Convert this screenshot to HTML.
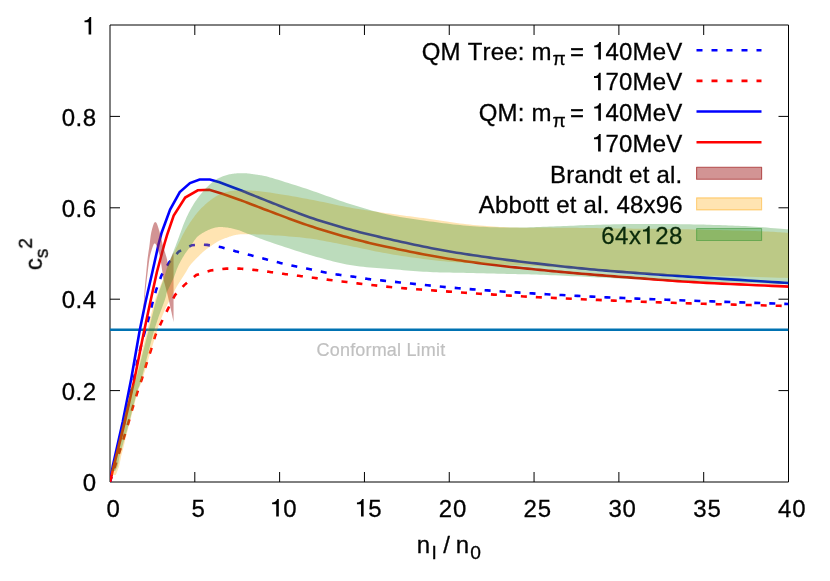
<!DOCTYPE html>
<html><head><meta charset="utf-8"><title>plot</title>
<style>html,body{margin:0;padding:0;background:#fff}text{font-kerning:none;font-variant-ligatures:none;stroke:#000;stroke-width:0.3px}body{width:830px;height:581px;overflow:hidden;font-family:"Liberation Sans",sans-serif}</style>
</head><body>
<svg width="830" height="581" viewBox="0 0 830 581" style="display:block">
<rect width="830" height="581" fill="#fff"/>
<defs><clipPath id="c"><rect x="110.00" y="25.00" width="678.50" height="457.00"/></clipPath></defs>
<path d="M194.81 482.00V472.00M194.81 25.00V35.00M279.62 482.00V472.00M279.62 25.00V35.00M364.44 482.00V472.00M364.44 25.00V35.00M449.25 482.00V472.00M449.25 25.00V35.00M534.06 482.00V472.00M534.06 25.00V35.00M618.88 482.00V472.00M618.88 25.00V35.00M703.69 482.00V472.00M703.69 25.00V35.00M110.00 390.60H120.00M788.50 390.60H778.50M110.00 299.20H120.00M788.50 299.20H778.50M110.00 207.80H120.00M788.50 207.80H778.50M110.00 116.40H120.00M788.50 116.40H778.50" stroke="#000" stroke-width="1" fill="none"/>
<path d="M110.00 25.00H788.50V482.00H110.00Z" stroke="#000" stroke-width="1" fill="none"/>
<g opacity="0.999">
<text x="96.10" y="491.20" font-family="Liberation Sans, sans-serif" font-size="24" text-anchor="end" fill="#000">0</text>
<text x="96.60" y="399.80" font-family="Liberation Sans, sans-serif" font-size="24" text-anchor="end" fill="#000" letter-spacing="0.500">0.2</text>
<text x="96.60" y="308.40" font-family="Liberation Sans, sans-serif" font-size="24" text-anchor="end" fill="#000" letter-spacing="0.500">0.4</text>
<text x="96.60" y="217.00" font-family="Liberation Sans, sans-serif" font-size="24" text-anchor="end" fill="#000" letter-spacing="0.500">0.6</text>
<text x="96.60" y="125.60" font-family="Liberation Sans, sans-serif" font-size="24" text-anchor="end" fill="#000" letter-spacing="0.500">0.8</text>
<path d="M88.6 34.6V22.3H84.5V20.5C87.2 20.4 89.0 19.4 89.6 17.1H91.2V34.6Z" fill="#000"/>
<text x="113.30" y="516.60" font-family="Liberation Sans, sans-serif" font-size="24" text-anchor="middle" fill="#000">0</text>
<text x="198.11" y="516.60" font-family="Liberation Sans, sans-serif" font-size="24" text-anchor="middle" fill="#000">5</text>
<path d="M276.22 516.60V504.30H272.12V502.50C274.82 502.40 276.62 501.40 277.22 499.10H278.82V516.60Z" fill="#000"/>
<text x="283.32" y="516.60" font-family="Liberation Sans, sans-serif" font-size="24" text-anchor="start" fill="#000">0</text>
<path d="M361.04 516.60V504.30H356.94V502.50C359.64 502.40 361.44 501.40 362.04 499.10H363.64V516.60Z" fill="#000"/>
<text x="368.14" y="516.60" font-family="Liberation Sans, sans-serif" font-size="24" text-anchor="start" fill="#000">5</text>
<text x="452.95" y="516.60" font-family="Liberation Sans, sans-serif" font-size="24" text-anchor="middle" fill="#000" letter-spacing="0.800">20</text>
<text x="537.76" y="516.60" font-family="Liberation Sans, sans-serif" font-size="24" text-anchor="middle" fill="#000" letter-spacing="0.800">25</text>
<text x="622.57" y="516.60" font-family="Liberation Sans, sans-serif" font-size="24" text-anchor="middle" fill="#000" letter-spacing="0.800">30</text>
<text x="707.39" y="516.60" font-family="Liberation Sans, sans-serif" font-size="24" text-anchor="middle" fill="#000" letter-spacing="0.800">35</text>
<text x="792.20" y="516.60" font-family="Liberation Sans, sans-serif" font-size="24" text-anchor="middle" fill="#000" letter-spacing="0.800">40</text>
<text y="552.7" font-family="Liberation Sans, sans-serif" font-size="24"><tspan x="416.84">n</tspan><tspan x="431.4" font-size="19.2" dy="6.0">I</tspan><tspan x="443.3" dy="-6.0">/</tspan><tspan x="455.8">n</tspan><tspan x="470.3" font-size="19.2" dy="6.2">0</tspan></text>
<text transform="translate(41.8,270.2) rotate(-90)" font-family="Liberation Sans, sans-serif" font-size="24">c<tspan font-size="19.2" dy="5.76">s</tspan><tspan font-size="19.2" dy="-15.36">2</tspan></text>
<text x="316.60" y="356.00" font-family="Liberation Sans, sans-serif" font-size="18" text-anchor="start" fill="#c0c0c0" letter-spacing="0.180" style="stroke:#c0c0c0;stroke-width:0.2px">Conformal Limit</text>
<text x="551.58" y="59.50" font-family="Liberation Sans, sans-serif" font-size="24" text-anchor="end" fill="#000" letter-spacing="0.180">QM Tree: m</text>
<text x="552.60" y="65.26" font-family="Liberation Sans, sans-serif" font-size="19.2" text-anchor="start" fill="#000">π</text>
<text x="570.00" y="59.50" font-family="Liberation Sans, sans-serif" font-size="24" text-anchor="start" fill="#000">=</text>
<path d="M598.30 59.50V47.20H594.20V45.40C596.90 45.30 598.70 44.30 599.30 42.00H600.90V59.50Z" fill="#000"/>
<text x="605.51" y="59.50" font-family="Liberation Sans, sans-serif" font-size="24" text-anchor="start" fill="#000" letter-spacing="0.180">40MeV</text>
<path d="M598.10 90.20V77.90H594.00V76.10C596.70 76.00 598.50 75.00 599.10 72.70H600.70V90.20Z" fill="#000"/>
<text x="605.51" y="90.20" font-family="Liberation Sans, sans-serif" font-size="24" text-anchor="start" fill="#000" letter-spacing="0.180">70MeV</text>
<text x="551.58" y="120.80" font-family="Liberation Sans, sans-serif" font-size="24" text-anchor="end" fill="#000" letter-spacing="0.180">QM: m</text>
<text x="552.60" y="126.56" font-family="Liberation Sans, sans-serif" font-size="19.2" text-anchor="start" fill="#000">π</text>
<text x="570.00" y="120.80" font-family="Liberation Sans, sans-serif" font-size="24" text-anchor="start" fill="#000">=</text>
<path d="M598.30 120.80V108.50H594.20V106.70C596.90 106.60 598.70 105.60 599.30 103.30H600.90V120.80Z" fill="#000"/>
<text x="605.51" y="120.80" font-family="Liberation Sans, sans-serif" font-size="24" text-anchor="start" fill="#000" letter-spacing="0.180">40MeV</text>
<path d="M598.10 151.50V139.20H594.00V137.40C596.70 137.30 598.50 136.30 599.10 134.00H600.70V151.50Z" fill="#000"/>
<text x="605.51" y="151.50" font-family="Liberation Sans, sans-serif" font-size="24" text-anchor="start" fill="#000" letter-spacing="0.180">70MeV</text>
<text x="682.53" y="182.50" font-family="Liberation Sans, sans-serif" font-size="24" text-anchor="end" fill="#000" letter-spacing="0.230">Brandt et al.</text>
<text x="682.80" y="213.20" font-family="Liberation Sans, sans-serif" font-size="24" text-anchor="end" fill="#000" letter-spacing="0.200">Abbott et al. 48x96</text>
</g>
<g clip-path="url(#c)" fill="none" stroke-width="2.60">
<path d="M110.00 329.82H788.50" stroke="#0072b2"/>
<path d="M110.00 482.00 L113.00 469.50 L124.40 422.00 L133.90 379.00 L138.00 358.00 L143.00 338.00 L148.60 318.70 L152.30 303.60 L156.20 289.90 L161.40 275.60 L169.20 262.30 L178.80 251.50 L192.00 245.20 L200.00 244.50 L207.10 244.90 L221.60 247.30 L236.00 251.40 L236.67 251.57 L237.51 251.79 L238.49 252.04 L239.59 252.32 L240.79 252.62 L242.06 252.95 L243.39 253.29 L244.74 253.64 L246.10 253.99 L247.45 254.34 L248.75 254.67 L250.00 255.00 L251.22 255.32 L252.45 255.65 L253.70 255.98 L254.96 256.32 L256.23 256.66 L257.50 257.00 L258.77 257.34 L260.04 257.68 L261.30 258.02 L262.55 258.35 L263.78 258.68 L265.00 259.00 L266.20 259.31 L267.38 259.63 L268.55 259.93 L269.70 260.24 L270.85 260.54 L272.00 260.84 L273.15 261.13 L274.30 261.43 L275.45 261.72 L276.62 262.02 L277.80 262.31 L279.00 262.60 L280.21 262.89 L281.44 263.18 L282.68 263.47 L283.93 263.76 L285.18 264.05 L286.44 264.34 L287.70 264.62 L288.96 264.90 L290.23 265.18 L291.49 265.46 L292.75 265.73 L294.00 266.00 L295.25 266.26 L296.51 266.52 L297.77 266.78 L299.04 267.03 L300.30 267.28 L301.56 267.52 L302.82 267.77 L304.07 268.01 L305.32 268.26 L306.56 268.50 L307.79 268.75 L309.00 269.00 L310.20 269.25 L311.38 269.50 L312.55 269.76 L313.70 270.01 L314.85 270.27 L316.00 270.52 L317.15 270.78 L318.30 271.03 L319.45 271.28 L320.62 271.52 L321.80 271.76 L323.00 272.00 L324.21 272.23 L325.44 272.46 L326.68 272.69 L327.93 272.92 L329.18 273.14 L330.44 273.36 L331.70 273.58 L332.96 273.79 L334.23 274.00 L335.49 274.21 L336.75 274.41 L338.00 274.60 L339.25 274.79 L340.50 274.96 L341.75 275.13 L343.00 275.30 L344.25 275.46 L345.50 275.61 L346.75 275.77 L348.00 275.93 L349.25 276.09 L350.50 276.25 L351.75 276.42 L353.00 276.60 L354.25 276.79 L355.50 276.99 L356.75 277.19 L358.00 277.40 L359.25 277.61 L360.50 277.83 L361.75 278.04 L363.00 278.24 L364.25 278.45 L365.50 278.64 L366.75 278.83 L368.00 279.00 L369.11 279.15 L369.99 279.26 L370.71 279.35 L371.36 279.42 L372.00 279.49 L372.73 279.56 L373.60 279.65 L374.71 279.76 L376.13 279.90 L377.93 280.08 L380.20 280.31 L383.00 280.60 L386.44 280.96 L390.50 281.40 L395.07 281.89 L400.05 282.42 L405.34 282.99 L410.84 283.58 L416.44 284.17 L422.04 284.76 L427.54 285.33 L432.83 285.86 L437.82 286.36 L442.40 286.80 L446.64 287.19 L450.71 287.56 L454.62 287.90 L458.41 288.21 L462.09 288.51 L465.70 288.80 L469.26 289.07 L472.79 289.34 L476.33 289.60 L479.89 289.86 L483.51 290.13 L487.20 290.40 L490.90 290.67 L494.52 290.93 L498.09 291.19 L501.64 291.44 L505.20 291.68 L508.77 291.93 L512.40 292.17 L516.11 292.41 L519.92 292.65 L523.85 292.90 L527.94 293.14 L532.20 293.40 L536.70 293.66 L541.46 293.94 L546.41 294.21 L551.52 294.50 L556.73 294.78 L561.99 295.06 L567.25 295.34 L572.46 295.61 L577.57 295.88 L582.53 296.13 L587.29 296.37 L591.80 296.60 L595.98 296.81 L599.82 296.99 L603.41 297.17 L606.83 297.33 L610.15 297.48 L613.44 297.62 L616.78 297.77 L620.26 297.92 L623.94 298.07 L627.91 298.23 L632.24 298.41 L637.00 298.60 L642.20 298.81 L647.76 299.02 L653.62 299.25 L659.74 299.48 L666.06 299.72 L672.54 299.96 L679.13 300.21 L685.79 300.45 L692.45 300.70 L699.07 300.94 L705.60 301.17 L712.00 301.40 L718.57 301.63 L725.55 301.88 L732.81 302.12 L740.22 302.38 L747.64 302.63 L754.94 302.88 L761.97 303.11 L768.61 303.33 L774.72 303.54 L780.16 303.72 L784.80 303.88 L788.50 304.00" stroke="#0000ff" stroke-dasharray="6 9" stroke-dashoffset="0.7"/>
<path d="M110.00 482.00 L116.00 463.00 L120.20 449.50 L124.50 435.60 L128.70 422.00 L132.70 407.50 L137.10 393.10 L141.90 378.80 L146.30 364.20 L151.00 349.80 L155.40 335.10 L161.50 322.00 L168.10 308.70 L175.00 295.10 L184.30 285.10 L196.30 275.00 L210.50 270.50 L226.40 268.60 L240.00 268.60 L240.72 268.67 L241.63 268.75 L242.70 268.84 L243.89 268.94 L245.19 269.05 L246.56 269.18 L247.99 269.30 L249.44 269.44 L250.90 269.57 L252.33 269.72 L253.70 269.86 L255.00 270.00 L256.25 270.15 L257.51 270.30 L258.76 270.46 L260.02 270.62 L261.28 270.79 L262.54 270.96 L263.79 271.14 L265.04 271.31 L266.29 271.49 L267.53 271.66 L268.77 271.83 L270.00 272.00 L271.22 272.17 L272.42 272.33 L273.61 272.50 L274.80 272.67 L275.98 272.83 L277.16 273.00 L278.35 273.17 L279.53 273.33 L280.73 273.50 L281.94 273.67 L283.16 273.83 L284.40 274.00 L285.66 274.17 L286.94 274.33 L288.23 274.50 L289.53 274.67 L290.85 274.83 L292.16 275.00 L293.48 275.17 L294.80 275.33 L296.11 275.50 L297.42 275.67 L298.72 275.83 L300.00 276.00 L301.27 276.17 L302.53 276.33 L303.79 276.50 L305.04 276.67 L306.29 276.83 L307.54 277.00 L308.78 277.17 L310.02 277.33 L311.26 277.50 L312.51 277.67 L313.75 277.83 L315.00 278.00 L316.11 278.15 L316.98 278.28 L317.70 278.38 L318.33 278.48 L318.97 278.58 L319.69 278.69 L320.56 278.81 L321.67 278.96 L323.09 279.15 L324.90 279.38 L327.17 279.66 L330.00 280.00 L333.43 280.42 L337.41 280.91 L341.86 281.45 L346.70 282.05 L351.86 282.68 L357.25 283.34 L362.79 284.00 L368.41 284.66 L374.02 285.30 L379.54 285.91 L384.89 286.48 L390.00 287.00 L395.00 287.47 L400.05 287.92 L405.15 288.36 L410.26 288.77 L415.37 289.17 L420.44 289.55 L425.47 289.92 L430.41 290.27 L435.26 290.62 L439.99 290.95 L444.58 291.28 L449.00 291.60 L453.24 291.91 L457.31 292.20 L461.23 292.47 L465.03 292.73 L468.74 292.98 L472.37 293.22 L475.95 293.46 L479.50 293.69 L483.05 293.92 L486.61 294.14 L490.22 294.37 L493.90 294.60 L497.47 294.83 L500.78 295.04 L503.94 295.25 L507.00 295.44 L510.07 295.64 L513.21 295.84 L516.50 296.04 L520.04 296.24 L523.90 296.46 L528.16 296.69 L532.90 296.94 L538.20 297.20 L544.17 297.49 L550.78 297.80 L557.92 298.13 L565.49 298.48 L573.38 298.84 L581.48 299.20 L589.69 299.56 L597.90 299.92 L606.00 300.27 L613.89 300.60 L621.46 300.91 L628.60 301.20 L635.36 301.47 L641.88 301.72 L648.20 301.96 L654.37 302.19 L660.44 302.40 L666.44 302.61 L672.43 302.82 L678.44 303.01 L684.51 303.21 L690.71 303.41 L697.05 303.60 L703.60 303.80 L710.60 304.00 L718.16 304.22 L726.12 304.43 L734.31 304.64 L742.57 304.86 L750.74 305.06 L758.64 305.26 L766.12 305.44 L773.01 305.61 L779.15 305.77 L784.37 305.89 L788.50 306.00" stroke="#ff0000" stroke-dasharray="6 9" stroke-dashoffset="0.5"/>
<path d="M110.00 482.00 L112.90 465.60 L122.70 422.00 L131.20 379.00 L139.60 331.00 L145.40 302.50 L152.60 271.00 L158.60 244.00 L161.70 232.50 L170.10 209.60 L179.80 192.10 L190.00 183.10 L199.60 179.50 L209.90 179.50 L219.50 182.30 L230.00 186.20 L240.00 190.00 L241.42 190.57 L243.15 191.27 L245.16 192.08 L247.41 192.99 L249.87 193.98 L252.50 195.04 L255.27 196.15 L258.15 197.30 L261.09 198.48 L264.07 199.66 L267.05 200.84 L270.00 202.00 L272.98 203.17 L276.09 204.41 L279.30 205.69 L282.59 207.00 L285.96 208.34 L289.38 209.69 L292.83 211.04 L296.30 212.38 L299.77 213.70 L303.22 214.98 L306.63 216.22 L310.00 217.40 L313.33 218.54 L316.67 219.65 L320.00 220.73 L323.33 221.80 L326.67 222.84 L330.00 223.86 L333.33 224.86 L336.67 225.84 L340.00 226.80 L343.33 227.75 L346.67 228.68 L350.00 229.60 L353.30 230.49 L356.55 231.35 L359.77 232.18 L362.96 232.99 L366.16 233.78 L369.38 234.56 L372.62 235.33 L375.93 236.10 L379.30 236.88 L382.75 237.67 L386.32 238.47 L390.00 239.30 L393.82 240.16 L397.75 241.03 L401.80 241.93 L405.93 242.84 L410.12 243.76 L414.38 244.67 L418.66 245.58 L422.96 246.47 L427.27 247.35 L431.55 248.20 L435.80 249.02 L440.00 249.80 L444.17 250.55 L448.33 251.27 L452.50 251.98 L456.67 252.66 L460.83 253.32 L465.00 253.96 L469.17 254.59 L473.33 255.21 L477.50 255.82 L481.67 256.42 L485.83 257.01 L490.00 257.60 L494.17 258.18 L498.33 258.75 L502.50 259.30 L506.67 259.85 L510.83 260.38 L515.00 260.91 L519.17 261.42 L523.33 261.93 L527.50 262.43 L531.67 262.93 L535.83 263.41 L540.00 263.90 L544.17 264.38 L548.33 264.86 L552.50 265.33 L556.67 265.79 L560.83 266.25 L565.00 266.69 L569.17 267.13 L573.33 267.57 L577.50 267.99 L581.67 268.40 L585.83 268.81 L590.00 269.20 L594.13 269.58 L598.22 269.94 L602.27 270.29 L606.30 270.62 L610.33 270.95 L614.38 271.27 L618.46 271.58 L622.59 271.90 L626.80 272.22 L631.09 272.54 L635.48 272.86 L640.00 273.20 L644.56 273.54 L649.09 273.87 L653.63 274.20 L658.20 274.53 L662.85 274.86 L667.59 275.20 L672.47 275.54 L677.52 275.89 L682.76 276.25 L688.23 276.62 L693.97 277.00 L700.00 277.40 L706.66 277.84 L714.13 278.32 L722.20 278.83 L730.67 279.37 L739.34 279.92 L748.00 280.46 L756.46 280.99 L764.50 281.50 L771.93 281.96 L778.54 282.37 L784.13 282.72 L788.50 283.00" stroke="#0000ff"/>
<path d="M110.00 482.00 L113.00 469.50 L124.80 422.00 L134.50 379.00 L143.70 333.00 L150.20 302.50 L156.90 272.00 L164.40 244.00 L167.10 234.90 L173.70 215.60 L185.20 197.50 L197.80 190.30 L209.30 189.70 L223.10 193.90 L240.00 199.90 L241.42 200.45 L243.15 201.12 L245.16 201.89 L247.41 202.77 L249.87 203.72 L252.50 204.74 L255.27 205.81 L258.15 206.91 L261.09 208.04 L264.07 209.17 L267.05 210.30 L270.00 211.40 L272.98 212.52 L276.09 213.68 L279.30 214.89 L282.59 216.13 L285.96 217.40 L289.38 218.67 L292.83 219.94 L296.30 221.21 L299.77 222.46 L303.22 223.68 L306.63 224.86 L310.00 226.00 L313.33 227.10 L316.67 228.18 L320.00 229.24 L323.33 230.29 L326.67 231.31 L330.00 232.32 L333.33 233.31 L336.67 234.28 L340.00 235.24 L343.33 236.17 L346.67 237.10 L350.00 238.00 L353.30 238.88 L356.55 239.72 L359.77 240.54 L362.96 241.34 L366.16 242.12 L369.38 242.89 L372.62 243.65 L375.93 244.40 L379.30 245.16 L382.75 245.93 L386.32 246.71 L390.00 247.50 L393.82 248.31 L397.75 249.15 L401.80 249.99 L405.93 250.84 L410.12 251.69 L414.38 252.54 L418.66 253.39 L422.96 254.21 L427.27 255.03 L431.55 255.81 L435.80 256.57 L440.00 257.30 L444.17 258.00 L448.33 258.67 L452.50 259.33 L456.67 259.96 L460.83 260.58 L465.00 261.18 L469.17 261.76 L473.33 262.33 L477.50 262.89 L481.67 263.43 L485.83 263.97 L490.00 264.50 L494.17 265.02 L498.33 265.51 L502.50 266.00 L506.67 266.47 L510.83 266.92 L515.00 267.37 L519.17 267.80 L523.33 268.23 L527.50 268.66 L531.67 269.07 L535.83 269.49 L540.00 269.90 L544.17 270.31 L548.33 270.71 L552.50 271.10 L556.67 271.49 L560.83 271.87 L565.00 272.24 L569.17 272.61 L573.33 272.98 L577.50 273.34 L581.67 273.70 L585.83 274.05 L590.00 274.40 L594.13 274.75 L598.22 275.08 L602.27 275.41 L606.30 275.73 L610.33 276.05 L614.38 276.37 L618.46 276.68 L622.59 277.00 L626.80 277.32 L631.09 277.64 L635.48 277.97 L640.00 278.30 L644.56 278.64 L649.09 278.98 L653.63 279.33 L658.20 279.68 L662.85 280.03 L667.59 280.39 L672.47 280.74 L677.52 281.10 L682.76 281.45 L688.23 281.80 L693.97 282.15 L700.00 282.50 L706.66 282.86 L714.13 283.24 L722.20 283.63 L730.67 284.03 L739.34 284.42 L748.00 284.81 L756.46 285.19 L764.50 285.54 L771.93 285.87 L778.54 286.16 L784.13 286.40 L788.50 286.60" stroke="#ff0000"/>
</g>
<g fill="none" stroke-width="2.60">
<path d="M696.5 50.20H761.5" stroke="#0000ff" stroke-dasharray="6 9"/>
<path d="M696.5 80.90H761.5" stroke="#ff0000" stroke-dasharray="6 9"/>
<path d="M696.5 111.50H761.5" stroke="#0000ff"/>
<path d="M696.5 142.20H761.5" stroke="#ff0000"/>
</g>
<g clip-path="url(#c)">
<path d="M143.20 311.00 L143.23 310.64 L143.26 310.21 L143.30 309.73 L143.34 309.19 L143.39 308.59 L143.44 307.94 L143.49 307.23 L143.55 306.48 L143.61 305.68 L143.67 304.83 L143.73 303.94 L143.80 303.00 L143.87 302.00 L143.94 300.92 L144.01 299.77 L144.09 298.56 L144.16 297.30 L144.24 296.00 L144.33 294.68 L144.41 293.33 L144.51 291.98 L144.60 290.64 L144.70 289.31 L144.80 288.00 L144.91 286.69 L145.02 285.36 L145.14 284.01 L145.27 282.65 L145.40 281.28 L145.53 279.91 L145.66 278.54 L145.80 277.19 L145.93 275.85 L146.06 274.53 L146.18 273.25 L146.30 272.00 L146.41 270.78 L146.52 269.59 L146.63 268.43 L146.73 267.28 L146.83 266.15 L146.93 265.03 L147.03 263.93 L147.14 262.83 L147.24 261.75 L147.36 260.66 L147.47 259.58 L147.60 258.50 L147.73 257.42 L147.88 256.34 L148.02 255.27 L148.18 254.21 L148.33 253.15 L148.49 252.10 L148.65 251.06 L148.81 250.03 L148.97 249.00 L149.12 247.99 L149.26 246.99 L149.40 246.00 L149.53 245.01 L149.65 244.03 L149.77 243.04 L149.89 242.06 L150.00 241.08 L150.11 240.12 L150.22 239.18 L150.33 238.27 L150.44 237.38 L150.55 236.51 L150.67 235.69 L150.80 234.90 L150.93 234.15 L151.07 233.43 L151.21 232.74 L151.35 232.07 L151.50 231.44 L151.64 230.82 L151.79 230.24 L151.94 229.67 L152.08 229.12 L152.22 228.60 L152.36 228.09 L152.50 227.60 L152.63 227.13 L152.76 226.67 L152.89 226.24 L153.02 225.83 L153.15 225.44 L153.28 225.07 L153.40 224.72 L153.52 224.39 L153.64 224.09 L153.76 223.80 L153.88 223.54 L154.00 223.30 L154.12 223.08 L154.23 222.89 L154.34 222.73 L154.45 222.59 L154.56 222.46 L154.66 222.36 L154.77 222.28 L154.87 222.21 L154.98 222.17 L155.09 222.13 L155.19 222.11 L155.30 222.10 L155.41 222.11 L155.52 222.13 L155.63 222.17 L155.74 222.23 L155.85 222.30 L155.96 222.39 L156.07 222.49 L156.17 222.61 L156.28 222.74 L156.39 222.88 L156.50 223.03 L156.60 223.20 L156.70 223.37 L156.80 223.55 L156.89 223.74 L156.98 223.94 L157.07 224.15 L157.16 224.37 L157.26 224.62 L157.35 224.89 L157.45 225.17 L157.56 225.49 L157.68 225.83 L157.80 226.20 L157.93 226.61 L158.08 227.05 L158.23 227.52 L158.38 228.02 L158.54 228.55 L158.71 229.09 L158.87 229.64 L159.04 230.21 L159.21 230.78 L159.38 231.36 L159.54 231.93 L159.70 232.50 L159.86 233.07 L160.02 233.67 L160.19 234.28 L160.36 234.90 L160.53 235.53 L160.69 236.16 L160.86 236.79 L161.02 237.41 L161.17 238.01 L161.32 238.60 L161.47 239.16 L161.60 239.70 L161.72 240.18 L161.81 240.60 L161.88 240.97 L161.95 241.30 L162.01 241.63 L162.07 241.96 L162.14 242.31 L162.22 242.70 L162.32 243.14 L162.45 243.66 L162.60 244.28 L162.80 245.00 L163.04 245.86 L163.34 246.85 L163.67 247.96 L164.03 249.14 L164.42 250.38 L164.81 251.66 L165.20 252.93 L165.58 254.19 L165.94 255.40 L166.27 256.54 L166.56 257.58 L166.80 258.50 L167.00 259.32 L167.16 260.10 L167.30 260.83 L167.42 261.51 L167.52 262.15 L167.60 262.74 L167.67 263.29 L167.72 263.79 L167.77 264.24 L167.81 264.64 L167.86 264.99 L167.90 265.30 L173.55 252.20 L173.55 322.00 L173.37 321.16 L173.15 320.09 L172.88 318.82 L172.58 317.40 L172.26 315.86 L171.91 314.24 L171.56 312.57 L171.20 310.90 L170.85 309.26 L170.51 307.69 L170.19 306.22 L169.90 304.90 L169.63 303.70 L169.37 302.55 L169.12 301.46 L168.87 300.41 L168.63 299.40 L168.40 298.40 L168.16 297.41 L167.92 296.43 L167.68 295.44 L167.43 294.42 L167.17 293.38 L166.90 292.30 L166.61 291.17 L166.31 289.99 L165.99 288.79 L165.66 287.56 L165.32 286.32 L164.99 285.09 L164.66 283.87 L164.34 282.67 L164.05 281.52 L163.77 280.41 L163.52 279.37 L163.30 278.40 L163.12 277.52 L162.97 276.72 L162.85 275.99 L162.74 275.31 L162.66 274.67 L162.59 274.05 L162.52 273.44 L162.46 272.83 L162.39 272.19 L162.31 271.52 L162.21 270.79 L162.10 270.00 L161.97 269.14 L161.84 268.23 L161.70 267.27 L161.56 266.29 L161.42 265.28 L161.27 264.26 L161.12 263.24 L160.96 262.23 L160.80 261.24 L160.64 260.28 L160.47 259.36 L160.30 258.50 L160.12 257.67 L159.94 256.87 L159.75 256.08 L159.55 255.31 L159.35 254.56 L159.14 253.83 L158.94 253.13 L158.74 252.45 L158.54 251.79 L158.35 251.17 L158.17 250.57 L158.00 250.00 L157.84 249.46 L157.68 248.95 L157.53 248.47 L157.38 248.01 L157.23 247.58 L157.09 247.18 L156.96 246.79 L156.82 246.43 L156.69 246.10 L156.56 245.78 L156.43 245.48 L156.30 245.20 L156.17 244.94 L156.05 244.70 L155.93 244.49 L155.81 244.30 L155.69 244.13 L155.58 243.98 L155.46 243.85 L155.35 243.74 L155.24 243.66 L155.12 243.59 L155.01 243.53 L154.90 243.50 L154.79 243.48 L154.69 243.47 L154.59 243.47 L154.49 243.48 L154.39 243.52 L154.29 243.57 L154.19 243.66 L154.09 243.77 L153.98 243.92 L153.86 244.11 L153.74 244.33 L153.60 244.60 L153.45 244.92 L153.30 245.28 L153.13 245.69 L152.96 246.13 L152.78 246.61 L152.59 247.12 L152.41 247.65 L152.22 248.20 L152.04 248.76 L151.85 249.34 L151.67 249.92 L151.50 250.50 L151.33 251.08 L151.16 251.65 L150.99 252.22 L150.82 252.81 L150.65 253.41 L150.48 254.03 L150.31 254.67 L150.15 255.35 L149.98 256.06 L149.82 256.82 L149.66 257.63 L149.50 258.50 L149.34 259.42 L149.19 260.40 L149.04 261.43 L148.89 262.50 L148.74 263.61 L148.59 264.75 L148.45 265.92 L148.30 267.11 L148.15 268.32 L148.00 269.54 L147.85 270.77 L147.70 272.00 L147.54 273.26 L147.38 274.57 L147.22 275.92 L147.05 277.30 L146.88 278.69 L146.71 280.09 L146.55 281.49 L146.39 282.87 L146.23 284.22 L146.08 285.54 L145.93 286.80 L145.80 288.00 L145.67 289.14 L145.56 290.24 L145.45 291.30 L145.34 292.33 L145.24 293.33 L145.14 294.31 L145.05 295.27 L144.96 296.22 L144.87 297.16 L144.78 298.10 L144.69 299.05 L144.60 300.00 L144.51 300.99 L144.41 302.02 L144.31 303.08 L144.21 304.15 L144.12 305.21 L144.02 306.25 L143.94 307.25 L143.85 308.19 L143.77 309.05 L143.71 309.81 L143.65 310.47 L143.60 311.00 Z" fill="#a52a2a" fill-opacity="0.5"/>
</g>
<rect x="696.6" y="167.20" width="65" height="12" fill="#a52a2a" fill-opacity="0.5" stroke="#a52a2a" stroke-opacity="0.75" stroke-width="1.1" stroke-linejoin="round"/>
<g clip-path="url(#c)">
<path d="M110.95 475.00 L110.97 474.74 L110.98 474.46 L110.99 474.16 L110.99 473.81 L111.00 473.43 L111.02 473.00 L111.05 472.51 L111.10 471.96 L111.18 471.34 L111.28 470.65 L111.42 469.87 L111.60 469.00 L111.81 468.06 L112.05 467.06 L112.32 466.01 L112.61 464.89 L112.93 463.70 L113.27 462.44 L113.63 461.09 L114.01 459.67 L114.40 458.15 L114.82 456.53 L115.25 454.82 L115.70 453.00 L116.18 451.02 L116.69 448.86 L117.24 446.55 L117.81 444.11 L118.40 441.59 L119.01 439.00 L119.62 436.39 L120.22 433.78 L120.82 431.20 L121.40 428.69 L121.97 426.28 L122.50 424.00 L123.02 421.78 L123.54 419.55 L124.06 417.32 L124.57 415.11 L125.08 412.94 L125.58 410.81 L126.05 408.75 L126.51 406.78 L126.95 404.90 L127.37 403.13 L127.75 401.49 L128.10 400.00 L128.41 398.66 L128.68 397.48 L128.92 396.42 L129.12 395.48 L129.31 394.64 L129.47 393.88 L129.63 393.17 L129.79 392.52 L129.95 391.89 L130.11 391.27 L130.30 390.65 L130.50 390.00 L130.72 389.36 L130.95 388.76 L131.19 388.20 L131.44 387.67 L131.68 387.17 L131.93 386.69 L132.18 386.23 L132.42 385.78 L132.65 385.34 L132.88 384.90 L133.10 384.45 L133.30 384.00 L133.46 383.69 L133.55 383.62 L133.60 383.71 L133.62 383.89 L133.64 384.07 L133.67 384.19 L133.73 384.15 L133.84 383.89 L134.03 383.32 L134.30 382.37 L134.69 380.95 L135.20 379.00 L135.86 376.40 L136.68 373.16 L137.61 369.40 L138.64 365.22 L139.74 360.74 L140.88 356.06 L142.05 351.30 L143.21 346.56 L144.34 341.95 L145.41 337.58 L146.41 333.56 L147.30 330.00 L148.10 326.81 L148.84 323.81 L149.54 320.98 L150.20 318.30 L150.82 315.75 L151.43 313.31 L152.03 310.97 L152.61 308.70 L153.21 306.49 L153.82 304.32 L154.44 302.16 L155.10 300.00 L155.79 297.86 L156.50 295.78 L157.23 293.75 L157.96 291.78 L158.70 289.86 L159.44 288.00 L160.18 286.19 L160.89 284.44 L161.59 282.75 L162.26 281.11 L162.90 279.53 L163.50 278.00 L164.06 276.54 L164.59 275.17 L165.10 273.86 L165.57 272.63 L166.03 271.44 L166.48 270.31 L166.90 269.21 L167.33 268.14 L167.74 267.09 L168.16 266.06 L168.58 265.03 L169.00 264.00 L169.43 262.98 L169.84 261.98 L170.26 261.01 L170.66 260.07 L171.06 259.15 L171.46 258.24 L171.86 257.36 L172.25 256.49 L172.64 255.63 L173.03 254.78 L173.41 253.94 L173.80 253.10 L174.18 252.30 L174.53 251.55 L174.87 250.84 L175.20 250.15 L175.53 249.48 L175.87 248.81 L176.21 248.12 L176.57 247.40 L176.96 246.65 L177.37 245.84 L177.81 244.96 L178.30 244.00 L178.82 242.96 L179.36 241.85 L179.92 240.69 L180.51 239.47 L181.11 238.22 L181.74 236.93 L182.40 235.62 L183.07 234.29 L183.77 232.96 L184.49 231.63 L185.23 230.30 L186.00 229.00 L186.80 227.68 L187.65 226.33 L188.53 224.94 L189.44 223.53 L190.37 222.12 L191.32 220.71 L192.29 219.32 L193.25 217.96 L194.21 216.63 L195.16 215.35 L196.09 214.14 L197.00 213.00 L197.89 211.93 L198.78 210.91 L199.66 209.93 L200.54 209.00 L201.42 208.11 L202.29 207.26 L203.16 206.43 L204.03 205.63 L204.89 204.85 L205.76 204.09 L206.63 203.34 L207.50 202.60 L208.37 201.87 L209.23 201.17 L210.08 200.48 L210.93 199.82 L211.78 199.18 L212.63 198.56 L213.49 197.96 L214.35 197.38 L215.22 196.83 L216.10 196.30 L216.99 195.79 L217.90 195.30 L218.83 194.84 L219.78 194.39 L220.74 193.97 L221.72 193.57 L222.70 193.19 L223.69 192.84 L224.68 192.51 L225.67 192.20 L226.65 191.91 L227.62 191.65 L228.57 191.41 L229.50 191.20 L230.42 191.02 L231.32 190.88 L232.21 190.77 L233.10 190.69 L233.98 190.63 L234.85 190.59 L235.72 190.57 L236.58 190.56 L237.44 190.55 L238.29 190.54 L239.15 190.52 L240.00 190.50 L240.82 190.47 L241.58 190.44 L242.30 190.40 L243.00 190.37 L243.70 190.34 L244.41 190.32 L245.15 190.32 L245.94 190.32 L246.81 190.34 L247.76 190.37 L248.82 190.42 L250.00 190.50 L251.25 190.59 L252.52 190.67 L253.83 190.77 L255.19 190.87 L256.61 190.99 L258.12 191.12 L259.74 191.29 L261.48 191.47 L263.36 191.70 L265.39 191.95 L267.60 192.25 L270.00 192.60 L272.63 193.00 L275.51 193.45 L278.59 193.94 L281.85 194.47 L285.25 195.03 L288.75 195.62 L292.32 196.23 L295.93 196.86 L299.53 197.49 L303.10 198.13 L306.60 198.77 L310.00 199.40 L313.33 200.04 L316.67 200.71 L320.00 201.40 L323.33 202.11 L326.67 202.83 L330.00 203.55 L333.33 204.27 L336.67 204.98 L340.00 205.67 L343.33 206.34 L346.67 206.99 L350.00 207.60 L353.33 208.18 L356.67 208.73 L360.00 209.27 L363.33 209.79 L366.67 210.29 L370.00 210.77 L373.33 211.25 L376.67 211.73 L380.00 212.19 L383.33 212.66 L386.67 213.13 L390.00 213.60 L393.33 214.07 L396.67 214.53 L400.00 214.99 L403.33 215.44 L406.67 215.88 L410.00 216.32 L413.33 216.77 L416.67 217.21 L420.00 217.65 L423.33 218.10 L426.67 218.54 L430.00 219.00 L433.33 219.47 L436.67 219.95 L440.00 220.45 L443.33 220.96 L446.67 221.46 L450.00 221.96 L453.33 222.46 L456.67 222.93 L460.00 223.39 L463.33 223.83 L466.67 224.23 L470.00 224.60 L473.33 224.94 L476.67 225.26 L480.00 225.56 L483.33 225.84 L486.67 226.10 L490.00 226.34 L493.33 226.56 L496.67 226.76 L500.00 226.95 L503.33 227.12 L506.67 227.27 L510.00 227.40 L513.33 227.51 L516.67 227.58 L520.00 227.63 L523.33 227.65 L526.67 227.66 L530.00 227.65 L533.33 227.63 L536.67 227.61 L540.00 227.60 L543.33 227.59 L546.67 227.58 L550.00 227.60 L553.33 227.63 L556.67 227.65 L560.00 227.68 L563.33 227.71 L566.67 227.74 L570.00 227.77 L573.33 227.81 L576.67 227.84 L580.00 227.88 L583.33 227.92 L586.67 227.96 L590.00 228.00 L593.33 228.04 L596.67 228.09 L600.00 228.14 L603.33 228.19 L606.67 228.25 L610.00 228.30 L613.33 228.35 L616.67 228.41 L620.00 228.46 L623.33 228.51 L626.67 228.56 L630.00 228.60 L633.31 228.64 L636.60 228.67 L639.86 228.70 L643.11 228.73 L646.36 228.75 L649.62 228.77 L652.91 228.80 L656.22 228.83 L659.58 228.86 L662.99 228.90 L666.46 228.95 L670.00 229.00 L673.62 229.06 L677.32 229.13 L681.08 229.20 L684.89 229.28 L688.74 229.36 L692.62 229.44 L696.53 229.53 L700.44 229.62 L704.36 229.71 L708.26 229.81 L712.15 229.90 L716.00 230.00 L719.90 230.10 L723.89 230.20 L727.96 230.30 L732.06 230.40 L736.15 230.51 L740.22 230.61 L744.22 230.72 L748.11 230.83 L751.87 230.95 L755.46 231.06 L758.85 231.18 L762.00 231.30 L764.98 231.43 L767.85 231.57 L770.62 231.72 L773.26 231.87 L775.77 232.03 L778.12 232.18 L780.32 232.33 L782.35 232.47 L784.20 232.61 L785.84 232.72 L787.28 232.82 L788.50 232.90 L788.50 277.90 L784.13 277.78 L778.54 277.63 L771.93 277.45 L764.50 277.24 L756.46 277.02 L748.00 276.79 L739.34 276.55 L730.67 276.31 L722.20 276.09 L714.13 275.87 L706.66 275.67 L700.00 275.50 L693.97 275.36 L688.23 275.24 L682.76 275.14 L677.52 275.05 L672.47 274.97 L667.59 274.89 L662.85 274.80 L658.20 274.71 L653.63 274.60 L649.09 274.46 L644.56 274.30 L640.00 274.10 L635.48 273.87 L631.09 273.61 L626.80 273.32 L622.59 273.02 L618.46 272.70 L614.38 272.36 L610.33 272.02 L606.30 271.67 L602.27 271.32 L598.22 270.97 L594.13 270.63 L590.00 270.30 L585.84 269.97 L581.69 269.63 L577.55 269.28 L573.41 268.92 L569.27 268.57 L565.12 268.21 L560.98 267.86 L556.81 267.52 L552.64 267.19 L548.45 266.88 L544.24 266.58 L540.00 266.30 L535.72 266.05 L531.40 265.81 L527.05 265.60 L522.67 265.40 L518.27 265.22 L513.88 265.04 L509.48 264.86 L505.11 264.69 L500.77 264.50 L496.46 264.32 L492.20 264.12 L488.00 263.90 L483.87 263.68 L479.79 263.48 L475.77 263.28 L471.78 263.09 L467.82 262.89 L463.88 262.68 L459.94 262.46 L456.00 262.21 L452.05 261.94 L448.07 261.63 L444.06 261.29 L440.00 260.90 L435.87 260.47 L431.67 259.99 L427.41 259.48 L423.11 258.93 L418.80 258.36 L414.50 257.76 L410.23 257.15 L406.00 256.53 L401.84 255.89 L397.78 255.26 L393.82 254.63 L390.00 254.00 L386.32 253.37 L382.75 252.72 L379.30 252.06 L375.93 251.39 L372.62 250.71 L369.38 250.03 L366.16 249.35 L362.96 248.66 L359.77 247.98 L356.55 247.31 L353.30 246.65 L350.00 246.00 L346.67 245.35 L343.33 244.69 L340.00 244.02 L336.67 243.35 L333.33 242.68 L330.00 242.02 L326.67 241.38 L323.33 240.76 L320.00 240.17 L316.67 239.61 L313.33 239.08 L310.00 238.60 L306.60 238.16 L303.10 237.75 L299.53 237.36 L295.93 237.01 L292.32 236.68 L288.75 236.38 L285.25 236.10 L281.85 235.84 L278.59 235.61 L275.51 235.39 L272.63 235.19 L270.00 235.00 L267.60 234.84 L265.39 234.71 L263.35 234.60 L261.46 234.53 L259.71 234.47 L258.09 234.43 L256.57 234.40 L255.14 234.37 L253.79 234.36 L252.49 234.34 L251.23 234.32 L250.00 234.30 L248.84 234.27 L247.79 234.25 L246.85 234.22 L246.00 234.20 L245.22 234.19 L244.50 234.18 L243.82 234.18 L243.18 234.19 L242.55 234.20 L241.92 234.22 L241.27 234.26 L240.60 234.30 L239.92 234.35 L239.27 234.42 L238.65 234.49 L238.04 234.57 L237.44 234.65 L236.86 234.75 L236.29 234.85 L235.72 234.97 L235.15 235.09 L234.57 235.22 L233.99 235.35 L233.40 235.50 L232.80 235.66 L232.20 235.82 L231.60 236.00 L231.00 236.19 L230.41 236.38 L229.81 236.59 L229.21 236.80 L228.61 237.01 L228.01 237.23 L227.41 237.45 L226.80 237.68 L226.20 237.90 L225.59 238.12 L224.99 238.35 L224.38 238.57 L223.77 238.80 L223.16 239.03 L222.55 239.26 L221.94 239.51 L221.33 239.76 L220.72 240.02 L220.11 240.30 L219.51 240.59 L218.90 240.90 L218.30 241.23 L217.69 241.57 L217.09 241.92 L216.49 242.29 L215.89 242.67 L215.29 243.06 L214.69 243.46 L214.10 243.86 L213.50 244.27 L212.90 244.68 L212.30 245.09 L211.70 245.50 L211.10 245.91 L210.50 246.31 L209.90 246.72 L209.30 247.13 L208.71 247.54 L208.11 247.96 L207.51 248.38 L206.91 248.82 L206.31 249.27 L205.71 249.73 L205.10 250.21 L204.50 250.70 L203.89 251.21 L203.29 251.74 L202.68 252.28 L202.07 252.84 L201.46 253.41 L200.85 253.99 L200.24 254.58 L199.63 255.17 L199.02 255.77 L198.41 256.38 L197.81 256.99 L197.20 257.60 L196.59 258.22 L195.96 258.86 L195.32 259.51 L194.67 260.18 L194.03 260.85 L193.39 261.52 L192.77 262.19 L192.16 262.86 L191.57 263.51 L191.01 264.16 L190.49 264.79 L190.00 265.40 L189.56 265.99 L189.16 266.56 L188.79 267.11 L188.46 267.66 L188.15 268.19 L187.85 268.72 L187.56 269.25 L187.27 269.78 L186.98 270.31 L186.68 270.86 L186.35 271.42 L186.00 272.00 L185.63 272.60 L185.24 273.21 L184.84 273.84 L184.43 274.48 L184.01 275.13 L183.59 275.78 L183.18 276.42 L182.76 277.06 L182.36 277.70 L181.96 278.31 L181.57 278.92 L181.20 279.50 L180.84 280.06 L180.49 280.61 L180.15 281.14 L179.82 281.66 L179.49 282.17 L179.17 282.67 L178.85 283.17 L178.53 283.67 L178.22 284.17 L177.91 284.67 L177.61 285.18 L177.30 285.70 L177.00 286.22 L176.71 286.73 L176.43 287.23 L176.16 287.73 L175.89 288.23 L175.62 288.73 L175.34 289.25 L175.06 289.77 L174.78 290.32 L174.48 290.89 L174.17 291.48 L173.85 292.10 L173.51 292.76 L173.14 293.47 L172.76 294.20 L172.37 294.97 L171.97 295.75 L171.57 296.54 L171.17 297.33 L170.77 298.11 L170.38 298.88 L170.00 299.62 L169.64 300.33 L169.30 301.00 L168.98 301.62 L168.67 302.21 L168.37 302.77 L168.09 303.30 L167.81 303.82 L167.54 304.33 L167.27 304.84 L167.01 305.35 L166.74 305.88 L166.46 306.42 L166.19 306.99 L165.90 307.60 L165.61 308.22 L165.33 308.83 L165.05 309.44 L164.77 310.06 L164.49 310.69 L164.20 311.34 L163.91 312.01 L163.61 312.72 L163.30 313.46 L162.98 314.26 L162.65 315.10 L162.30 316.00 L161.96 316.86 L161.66 317.60 L161.38 318.29 L161.10 318.96 L160.82 319.66 L160.51 320.46 L160.16 321.40 L159.75 322.53 L159.28 323.91 L158.72 325.58 L158.07 327.59 L157.30 330.00 L156.37 332.97 L155.28 336.55 L154.04 340.61 L152.70 345.04 L151.29 349.71 L149.85 354.50 L148.41 359.29 L147.00 363.96 L145.66 368.39 L144.43 372.45 L143.33 376.03 L142.40 379.00 L141.65 381.34 L141.03 383.16 L140.52 384.56 L140.11 385.63 L139.77 386.45 L139.47 387.12 L139.19 387.73 L138.92 388.37 L138.63 389.12 L138.29 390.09 L137.89 391.35 L137.40 393.00 L136.82 395.05 L136.18 397.40 L135.50 400.00 L134.78 402.78 L134.04 405.67 L133.29 408.62 L132.54 411.57 L131.82 414.44 L131.13 417.19 L130.49 419.74 L129.91 422.03 L129.40 424.00 L128.97 425.66 L128.59 427.08 L128.27 428.29 L127.99 429.33 L127.74 430.25 L127.51 431.06 L127.30 431.82 L127.10 432.56 L126.90 433.30 L126.69 434.10 L126.46 434.99 L126.20 436.00 L125.92 437.12 L125.62 438.31 L125.32 439.55 L125.01 440.81 L124.71 442.10 L124.40 443.38 L124.10 444.63 L123.81 445.85 L123.53 447.02 L123.26 448.11 L123.02 449.11 L122.80 450.00 L122.60 450.77 L122.43 451.42 L122.28 451.98 L122.14 452.46 L122.02 452.88 L121.91 453.27 L121.80 453.65 L121.69 454.03 L121.58 454.43 L121.46 454.88 L121.34 455.40 L121.20 456.00 L121.05 456.69 L120.89 457.46 L120.73 458.29 L120.56 459.16 L120.39 460.06 L120.23 460.96 L120.06 461.86 L119.89 462.73 L119.73 463.55 L119.58 464.32 L119.43 465.01 L119.30 465.60 L119.18 466.10 L119.06 466.53 L118.95 466.90 L118.84 467.21 L118.75 467.48 L118.65 467.71 L118.56 467.93 L118.47 468.13 L118.38 468.32 L118.29 468.53 L118.19 468.75 L118.10 469.00 L118.01 469.26 L117.91 469.52 L117.82 469.78 L117.73 470.03 L117.64 470.28 L117.56 470.52 L117.47 470.77 L117.38 471.01 L117.29 471.26 L117.19 471.50 L117.10 471.75 L117.00 472.00 L116.89 472.26 L116.78 472.53 L116.66 472.82 L116.53 473.11 L116.41 473.40 L116.28 473.69 L116.16 473.96 L116.04 474.22 L115.94 474.46 L115.84 474.67 L115.76 474.86 L115.70 475.00 Z" fill="#ffa500" fill-opacity="0.3"/>
</g>
<rect x="696.6" y="197.90" width="65" height="12" fill="#ffa500" fill-opacity="0.3" stroke="#ffa500" stroke-opacity="0.44999999999999996" stroke-width="1.1" stroke-linejoin="round"/>
<g opacity="0.999"><text x="601.30" y="243.80" font-family="Liberation Sans, sans-serif" font-size="24" text-anchor="start" fill="#000" letter-spacing="0.450">64x</text><path d="M647.10 243.80V231.50H643.00V229.70C645.70 229.60 647.50 228.60 648.10 226.30H649.70V243.80Z" fill="#000"/><text x="655.13" y="243.80" font-family="Liberation Sans, sans-serif" font-size="24" text-anchor="start" fill="#000" letter-spacing="0.450">28</text></g>
<g clip-path="url(#c)">
<path d="M111.50 471.00 L111.50 470.95 L111.49 470.94 L111.46 470.97 L111.44 471.00 L111.41 471.02 L111.39 471.00 L111.39 470.93 L111.41 470.78 L111.45 470.53 L111.53 470.17 L111.64 469.66 L111.80 469.00 L112.00 468.20 L112.23 467.29 L112.49 466.29 L112.79 465.19 L113.10 463.98 L113.44 462.69 L113.81 461.30 L114.19 459.81 L114.60 458.24 L115.02 456.58 L115.45 454.83 L115.90 453.00 L116.38 451.02 L116.89 448.86 L117.44 446.55 L118.01 444.11 L118.60 441.59 L119.21 439.00 L119.82 436.39 L120.42 433.78 L121.02 431.20 L121.60 428.69 L122.17 426.28 L122.70 424.00 L123.22 421.78 L123.74 419.55 L124.26 417.32 L124.77 415.11 L125.28 412.94 L125.77 410.81 L126.25 408.75 L126.71 406.78 L127.15 404.90 L127.56 403.13 L127.95 401.49 L128.30 400.00 L128.62 398.66 L128.89 397.48 L129.13 396.42 L129.34 395.48 L129.54 394.64 L129.71 393.88 L129.88 393.17 L130.04 392.52 L130.21 391.89 L130.39 391.27 L130.58 390.65 L130.80 390.00 L131.04 389.36 L131.28 388.76 L131.54 388.20 L131.80 387.67 L132.06 387.17 L132.33 386.69 L132.59 386.23 L132.85 385.78 L133.10 385.34 L133.35 384.90 L133.58 384.45 L133.80 384.00 L133.97 383.69 L134.08 383.62 L134.14 383.71 L134.17 383.89 L134.20 384.07 L134.24 384.19 L134.31 384.15 L134.44 383.89 L134.64 383.32 L134.94 382.37 L135.35 380.95 L135.90 379.00 L136.61 376.40 L137.47 373.16 L138.47 369.40 L139.57 365.22 L140.74 360.74 L141.96 356.06 L143.19 351.30 L144.42 346.56 L145.61 341.95 L146.74 337.58 L147.78 333.56 L148.70 330.00 L149.52 326.81 L150.27 323.81 L150.96 320.98 L151.61 318.30 L152.23 315.75 L152.82 313.31 L153.39 310.97 L153.95 308.70 L154.51 306.49 L155.09 304.32 L155.68 302.16 L156.30 300.00 L156.95 297.86 L157.62 295.76 L158.31 293.71 L159.01 291.72 L159.70 289.79 L160.39 287.91 L161.07 286.09 L161.73 284.33 L162.35 282.64 L162.95 281.02 L163.50 279.48 L164.00 278.00 L164.44 276.63 L164.83 275.38 L165.16 274.24 L165.46 273.18 L165.72 272.19 L165.97 271.24 L166.22 270.33 L166.47 269.42 L166.73 268.50 L167.01 267.55 L167.33 266.56 L167.70 265.50 L168.11 264.38 L168.55 263.24 L169.01 262.08 L169.49 260.90 L169.99 259.72 L170.49 258.53 L171.00 257.33 L171.51 256.15 L172.01 254.98 L172.49 253.83 L172.96 252.70 L173.40 251.60 L173.82 250.54 L174.21 249.53 L174.59 248.56 L174.96 247.60 L175.31 246.66 L175.67 245.73 L176.03 244.78 L176.39 243.81 L176.76 242.81 L177.15 241.76 L177.56 240.66 L178.00 239.50 L178.46 238.25 L178.95 236.93 L179.45 235.54 L179.97 234.10 L180.50 232.63 L181.04 231.14 L181.58 229.66 L182.12 228.19 L182.65 226.75 L183.18 225.36 L183.70 224.04 L184.20 222.80 L184.69 221.63 L185.17 220.50 L185.64 219.42 L186.10 218.37 L186.57 217.35 L187.03 216.36 L187.48 215.40 L187.94 214.46 L188.40 213.53 L188.86 212.61 L189.33 211.70 L189.80 210.80 L190.28 209.91 L190.75 209.03 L191.23 208.17 L191.71 207.33 L192.20 206.50 L192.68 205.69 L193.17 204.89 L193.65 204.11 L194.14 203.34 L194.63 202.58 L195.11 201.83 L195.60 201.10 L196.09 200.38 L196.58 199.68 L197.07 198.99 L197.56 198.31 L198.05 197.65 L198.54 197.01 L199.03 196.37 L199.52 195.74 L200.02 195.12 L200.51 194.51 L201.00 193.90 L201.50 193.30 L201.99 192.71 L202.46 192.14 L202.93 191.58 L203.39 191.03 L203.86 190.50 L204.33 189.96 L204.80 189.43 L205.30 188.90 L205.81 188.36 L206.34 187.82 L206.91 187.27 L207.50 186.70 L208.13 186.11 L208.78 185.50 L209.45 184.87 L210.15 184.24 L210.87 183.60 L211.60 182.96 L212.35 182.32 L213.10 181.71 L213.87 181.11 L214.64 180.54 L215.42 180.00 L216.20 179.50 L216.99 179.03 L217.79 178.59 L218.61 178.16 L219.44 177.76 L220.28 177.38 L221.13 177.01 L221.98 176.67 L222.83 176.34 L223.68 176.03 L224.53 175.74 L225.37 175.46 L226.20 175.20 L227.02 174.96 L227.84 174.74 L228.66 174.53 L229.47 174.35 L230.29 174.19 L231.10 174.04 L231.91 173.90 L232.73 173.78 L233.54 173.67 L234.36 173.57 L235.18 173.48 L236.00 173.40 L236.83 173.33 L237.66 173.27 L238.49 173.22 L239.32 173.19 L240.15 173.17 L240.99 173.16 L241.82 173.16 L242.66 173.17 L243.50 173.19 L244.33 173.22 L245.17 173.25 L246.00 173.30 L246.82 173.35 L247.62 173.42 L248.41 173.49 L249.19 173.57 L249.96 173.67 L250.75 173.77 L251.55 173.88 L252.37 174.00 L253.22 174.14 L254.10 174.28 L255.03 174.43 L256.00 174.60 L256.94 174.75 L257.80 174.87 L258.61 174.96 L259.41 175.06 L260.23 175.16 L261.12 175.29 L262.12 175.46 L263.26 175.69 L264.58 175.98 L266.12 176.35 L267.91 176.82 L270.00 177.40 L272.42 178.10 L275.16 178.92 L278.17 179.83 L281.41 180.82 L284.82 181.88 L288.38 183.00 L292.02 184.15 L295.70 185.33 L299.39 186.52 L303.03 187.71 L306.58 188.87 L310.00 190.00 L313.33 191.13 L316.67 192.29 L320.00 193.47 L323.33 194.67 L326.67 195.89 L330.00 197.10 L333.33 198.31 L336.67 199.50 L340.00 200.68 L343.33 201.82 L346.67 202.93 L350.00 204.00 L353.33 205.04 L356.67 206.06 L360.00 207.07 L363.33 208.06 L366.67 209.03 L370.00 209.97 L373.33 210.89 L376.67 211.79 L380.00 212.64 L383.33 213.47 L386.67 214.25 L390.00 215.00 L393.33 215.70 L396.67 216.35 L400.00 216.97 L403.33 217.54 L406.67 218.08 L410.00 218.60 L413.33 219.09 L416.67 219.57 L420.00 220.03 L423.33 220.49 L426.67 220.94 L430.00 221.40 L433.33 221.86 L436.67 222.31 L440.00 222.75 L443.33 223.18 L446.67 223.60 L450.00 224.00 L453.33 224.39 L456.67 224.76 L460.00 225.10 L463.33 225.43 L466.67 225.73 L470.00 226.00 L473.33 226.25 L476.67 226.47 L480.00 226.67 L483.33 226.85 L486.67 227.01 L490.00 227.15 L493.33 227.27 L496.67 227.37 L500.00 227.45 L503.33 227.52 L506.67 227.57 L510.00 227.60 L513.33 227.61 L516.67 227.59 L520.00 227.55 L523.33 227.48 L526.67 227.40 L530.00 227.30 L533.33 227.19 L536.67 227.07 L540.00 226.95 L543.33 226.83 L546.67 226.71 L550.00 226.60 L553.33 226.49 L556.67 226.36 L560.00 226.23 L563.33 226.09 L566.67 225.95 L570.00 225.80 L573.33 225.65 L576.67 225.51 L580.00 225.37 L583.33 225.24 L586.67 225.11 L590.00 225.00 L593.33 224.89 L596.67 224.79 L600.00 224.68 L603.33 224.59 L606.67 224.49 L610.00 224.40 L613.33 224.32 L616.67 224.24 L620.00 224.17 L623.33 224.10 L626.67 224.05 L630.00 224.00 L633.33 223.96 L636.67 223.93 L640.00 223.91 L643.33 223.90 L646.67 223.89 L650.00 223.89 L653.33 223.89 L656.67 223.90 L660.00 223.92 L663.33 223.94 L666.67 223.97 L670.00 224.00 L673.34 224.04 L676.69 224.08 L680.05 224.13 L683.41 224.18 L686.77 224.24 L690.12 224.31 L693.48 224.38 L696.81 224.45 L700.14 224.53 L703.45 224.62 L706.74 224.71 L710.00 224.80 L713.23 224.90 L716.42 224.99 L719.58 225.09 L722.72 225.19 L725.85 225.30 L728.97 225.41 L732.09 225.53 L735.22 225.66 L738.37 225.80 L741.55 225.96 L744.75 226.12 L748.00 226.30 L751.42 226.51 L755.07 226.75 L758.90 227.01 L762.81 227.30 L766.75 227.60 L770.62 227.89 L774.37 228.19 L777.91 228.47 L781.16 228.73 L784.06 228.96 L786.54 229.15 L788.50 229.30 L788.50 284.50 L784.13 284.35 L778.54 284.16 L771.93 283.94 L764.50 283.69 L756.46 283.41 L748.00 283.12 L739.34 282.83 L730.67 282.54 L722.20 282.25 L714.13 281.98 L706.66 281.72 L700.00 281.50 L693.97 281.30 L688.23 281.11 L682.76 280.94 L677.52 280.78 L672.47 280.62 L667.59 280.47 L662.85 280.32 L658.20 280.17 L653.63 280.01 L649.09 279.85 L644.56 279.68 L640.00 279.50 L635.48 279.31 L631.09 279.11 L626.80 278.91 L622.59 278.70 L618.46 278.48 L614.38 278.27 L610.33 278.05 L606.30 277.84 L602.27 277.62 L598.22 277.41 L594.13 277.20 L590.00 277.00 L585.77 276.80 L581.44 276.59 L577.03 276.37 L572.59 276.16 L568.15 275.95 L563.75 275.74 L559.42 275.53 L555.19 275.34 L551.09 275.16 L547.18 274.99 L543.47 274.84 L540.00 274.70 L536.83 274.59 L533.96 274.49 L531.33 274.42 L528.89 274.36 L526.59 274.31 L524.38 274.27 L522.20 274.23 L520.00 274.20 L517.73 274.16 L515.35 274.12 L512.79 274.06 L510.00 274.00 L507.02 273.93 L503.91 273.85 L500.70 273.77 L497.41 273.69 L494.04 273.60 L490.62 273.52 L487.17 273.43 L483.70 273.34 L480.23 273.26 L476.78 273.17 L473.37 273.08 L470.00 273.00 L466.67 272.92 L463.33 272.86 L460.00 272.80 L456.67 272.74 L453.33 272.68 L450.00 272.62 L446.67 272.56 L443.33 272.48 L440.00 272.39 L436.67 272.28 L433.33 272.15 L430.00 272.00 L426.67 271.82 L423.33 271.63 L420.00 271.41 L416.67 271.19 L413.33 270.94 L410.00 270.69 L406.67 270.42 L403.33 270.15 L400.00 269.87 L396.67 269.58 L393.33 269.29 L390.00 269.00 L386.67 268.72 L383.33 268.46 L380.00 268.21 L376.67 267.96 L373.33 267.71 L370.00 267.44 L366.67 267.14 L363.33 266.81 L360.00 266.45 L356.67 266.03 L353.33 265.55 L350.00 265.00 L346.67 264.39 L343.33 263.72 L340.00 262.99 L336.67 262.22 L333.33 261.41 L330.00 260.56 L326.67 259.68 L323.33 258.78 L320.00 257.85 L316.67 256.91 L313.33 255.96 L310.00 255.00 L306.60 254.00 L303.10 252.94 L299.53 251.83 L295.93 250.68 L292.32 249.51 L288.75 248.34 L285.25 247.17 L281.85 246.03 L278.59 244.93 L275.51 243.88 L272.63 242.90 L270.00 242.00 L267.61 241.18 L265.42 240.41 L263.41 239.69 L261.56 239.01 L259.84 238.38 L258.25 237.77 L256.75 237.20 L255.33 236.65 L253.97 236.12 L252.64 235.61 L251.32 235.10 L250.00 234.60 L248.72 234.11 L247.53 233.65 L246.42 233.20 L245.38 232.78 L244.40 232.38 L243.46 231.99 L242.55 231.63 L241.65 231.27 L240.76 230.94 L239.87 230.61 L238.95 230.30 L238.00 230.00 L237.03 229.71 L236.06 229.44 L235.09 229.17 L234.12 228.93 L233.16 228.69 L232.21 228.47 L231.26 228.27 L230.32 228.09 L229.40 227.91 L228.48 227.76 L227.58 227.62 L226.70 227.50 L225.84 227.39 L224.99 227.29 L224.16 227.21 L223.35 227.14 L222.54 227.08 L221.75 227.04 L220.96 227.03 L220.17 227.03 L219.39 227.06 L218.60 227.11 L217.80 227.19 L217.00 227.30 L216.19 227.44 L215.38 227.60 L214.58 227.79 L213.77 228.01 L212.96 228.25 L212.15 228.51 L211.34 228.79 L210.53 229.09 L209.72 229.42 L208.92 229.76 L208.11 230.12 L207.30 230.50 L206.48 230.89 L205.66 231.30 L204.82 231.73 L203.98 232.17 L203.14 232.63 L202.31 233.12 L201.48 233.63 L200.66 234.16 L199.86 234.73 L199.08 235.32 L198.33 235.94 L197.60 236.60 L196.90 237.31 L196.22 238.07 L195.56 238.88 L194.91 239.73 L194.28 240.61 L193.67 241.51 L193.07 242.41 L192.48 243.31 L191.90 244.20 L191.33 245.07 L190.76 245.91 L190.20 246.70 L189.65 247.45 L189.12 248.17 L188.60 248.86 L188.10 249.53 L187.60 250.19 L187.11 250.85 L186.63 251.51 L186.15 252.18 L185.67 252.86 L185.18 253.58 L184.70 254.32 L184.20 255.10 L183.70 255.92 L183.18 256.76 L182.67 257.62 L182.15 258.51 L181.63 259.41 L181.11 260.32 L180.60 261.25 L180.10 262.19 L179.60 263.14 L179.12 264.09 L178.65 265.05 L178.20 266.00 L177.77 266.95 L177.38 267.91 L177.00 268.87 L176.64 269.83 L176.29 270.81 L175.94 271.79 L175.59 272.78 L175.24 273.79 L174.86 274.81 L174.47 275.85 L174.05 276.92 L173.60 278.00 L173.10 279.13 L172.55 280.33 L171.96 281.57 L171.35 282.84 L170.72 284.13 L170.09 285.42 L169.47 286.69 L168.87 287.94 L168.30 289.14 L167.77 290.27 L167.30 291.33 L166.90 292.30 L166.59 293.10 L166.38 293.71 L166.25 294.17 L166.17 294.53 L166.12 294.85 L166.09 295.17 L166.04 295.54 L165.95 296.03 L165.81 296.66 L165.58 297.50 L165.25 298.60 L164.80 300.00 L164.23 301.66 L163.56 303.49 L162.82 305.49 L162.01 307.64 L161.14 309.96 L160.22 312.42 L159.26 315.02 L158.28 317.77 L157.28 320.64 L156.28 323.64 L155.28 326.76 L154.30 330.00 L153.29 333.53 L152.21 337.47 L151.07 341.73 L149.90 346.22 L148.72 350.84 L147.54 355.50 L146.38 360.10 L145.25 364.56 L144.18 368.77 L143.19 372.64 L142.29 376.08 L141.50 379.00 L140.84 381.34 L140.29 383.16 L139.83 384.56 L139.46 385.63 L139.13 386.45 L138.85 387.12 L138.58 387.73 L138.31 388.37 L138.02 389.12 L137.68 390.09 L137.28 391.35 L136.80 393.00 L136.23 395.05 L135.60 397.40 L134.92 400.00 L134.21 402.78 L133.47 405.67 L132.72 408.62 L131.97 411.57 L131.25 414.44 L130.55 417.19 L129.91 419.74 L129.32 422.03 L128.80 424.00 L128.36 425.66 L127.98 427.08 L127.64 428.29 L127.35 429.33 L127.09 430.25 L126.86 431.06 L126.63 431.82 L126.41 432.56 L126.19 433.30 L125.95 434.10 L125.69 434.99 L125.40 436.00 L125.08 437.12 L124.73 438.31 L124.37 439.55 L124.00 440.81 L123.62 442.10 L123.24 443.38 L122.87 444.63 L122.51 445.85 L122.17 447.02 L121.85 448.11 L121.56 449.11 L121.30 450.00 L121.07 450.77 L120.88 451.42 L120.71 451.98 L120.56 452.46 L120.43 452.88 L120.31 453.27 L120.19 453.65 L120.09 454.03 L119.98 454.43 L119.86 454.88 L119.74 455.40 L119.60 456.00 L119.45 456.69 L119.30 457.46 L119.15 458.29 L119.00 459.16 L118.84 460.06 L118.69 460.96 L118.53 461.86 L118.38 462.73 L118.23 463.55 L118.08 464.32 L117.94 465.01 L117.80 465.60 L117.66 466.10 L117.53 466.54 L117.40 466.92 L117.27 467.24 L117.14 467.53 L117.02 467.78 L116.90 468.00 L116.77 468.20 L116.65 468.39 L116.53 468.59 L116.42 468.79 L116.30 469.00 L116.18 469.22 L116.06 469.44 L115.93 469.65 L115.80 469.84 L115.68 470.03 L115.56 470.21 L115.44 470.38 L115.33 470.53 L115.23 470.67 L115.14 470.80 L115.06 470.91 L115.00 471.00 Z" fill="#228b22" fill-opacity="0.3"/>
</g>
<rect x="696.6" y="228.50" width="65" height="12" fill="#228b22" fill-opacity="0.3" stroke="#228b22" stroke-opacity="0.44999999999999996" stroke-width="1.1" stroke-linejoin="round"/>
</svg>
</body></html>
